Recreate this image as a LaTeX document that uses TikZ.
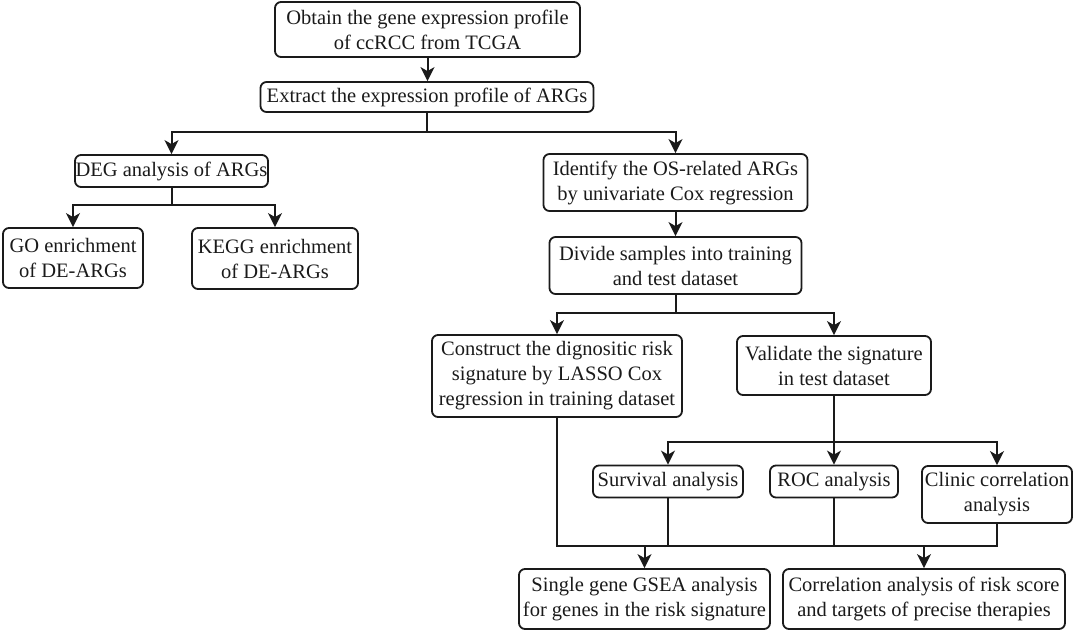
\documentclass[tikz,border=0pt]{standalone}
\usepackage{fontspec}
\setmainfont{Liberation Serif}
\usetikzlibrary{arrows.meta}
\definecolor{ink}{HTML}{1A1A1A}
\begin{document}
\begin{tikzpicture}[x=1pt,y=-1pt,
  box/.style={draw=ink, line width=1.8pt, rounded corners=6pt, inner sep=0pt,
    align=center, text=ink, font=\fontsize{20.5}{25}\selectfont},
  ln/.style={draw=ink, line width=2pt},
  arr/.style={draw=ink, line width=2pt, -{Stealth[length=14pt,width=14pt,inset=4pt]}}]
\useasboundingbox (0,0) rectangle (1074,632);

\node[box, minimum width=305pt, minimum height=55pt] (obtain) at (427.5,29.5)
  {Obtain the gene expression profile\\of ccRCC from TCGA};
\node[box, minimum width=333pt, minimum height=30pt] (extract) at (427,97)
  {Extract the expression profile of ARGs};
\node[box, minimum width=193pt, minimum height=32pt] (deg) at (171.5,171)
  {DEG analysis of ARGs};
\node[box, minimum width=140pt, minimum height=60pt] (go) at (73,258)
  {GO enrichment\\of DE-ARGs};
\node[box, minimum width=166pt, minimum height=61pt] (kegg) at (275,258.5)
  {KEGG enrichment\\of DE-ARGs};
\node[box, minimum width=264pt, minimum height=57pt] (identify) at (675.5,182.5)
  {Identify the OS-related ARGs\\by univariate Cox regression};
\node[box, minimum width=252pt, minimum height=57pt] (divide) at (675.5,265.5)
  {Divide samples into training\\and test dataset};
\node[box, minimum width=250pt, minimum height=82pt] (construct) at (557,376)
  {Construct the dignositic risk\\signature by LASSO Cox\\regression in training dataset};
\node[box, minimum width=194pt, minimum height=59pt] (validate) at (834,365.5)
  {Validate the signature\\in test dataset};
\node[box, minimum width=150pt, minimum height=32pt] (survival) at (668,481.5)
  {Survival analysis};
\node[box, minimum width=128pt, minimum height=32pt] (roc) at (834,481.5)
  {ROC analysis};
\node[box, minimum width=150pt, minimum height=57pt] (clinic) at (997,494.5)
  {Clinic correlation\\analysis};
\node[box, minimum width=251pt, minimum height=60pt] (single) at (644.5,599)
  {Single gene GSEA analysis\\for genes in the risk signature};
\node[box, minimum width=282pt, minimum height=60pt] (correl) at (924,599)
  {Correlation analysis of risk score\\and targets of precise therapies};

% top chain
\draw[arr] (obtain.south) -- (obtain.south |- extract.north);
\coordinate (j1) at (427,132);
\draw[ln] (extract.south) -- (j1);
\draw[arr] (j1) -| (deg.north);
\draw[arr] (j1) -| (identify.north);

% left branch
\coordinate (j2) at (171.5,205);
\draw[ln] (deg.south) -- (j2);
\draw[arr] (j2) -| (go.north);
\draw[arr] (j2) -| (kegg.north);

% right branch
\draw[arr] (identify.south) -- (divide.north);
\coordinate (j3) at (675.5,313);
\draw[ln] (divide.south) -- (j3);
\draw[arr] (j3) -| (construct.north);
\draw[arr] (j3) -| (validate.north);

\coordinate (j4) at (834,442);
\draw[ln] (validate.south) -- (j4);
\draw[arr] (j4) -| (survival.north);
\draw[arr] (j4) -- (roc.north);
\draw[arr] (j4) -| (clinic.north);

% bottom merge
\coordinate (b1) at (557,546);
\coordinate (b2) at (997,546);
\draw[ln] (construct.south) -- (b1) -- (b2) -- (clinic.south);
\draw[ln] (survival.south) -- (survival.south |- b1);
\draw[ln] (roc.south) -- (roc.south |- b1);
\draw[arr] (single.north |- b1) -- (single.north);
\draw[arr] (correl.north |- b1) -- (correl.north);
\end{tikzpicture}
\end{document}
